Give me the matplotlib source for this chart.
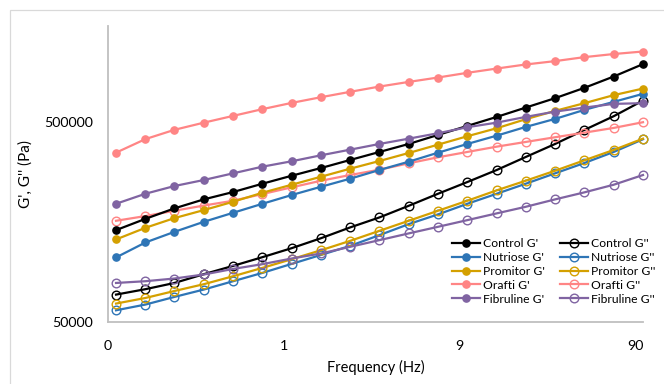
import numpy as np
import matplotlib
matplotlib.use("Agg")
import matplotlib.pyplot as plt
from matplotlib.ticker import FixedLocator, FixedFormatter, NullLocator
from matplotlib.patches import Rectangle

plt.rcParams['font.family'] = ['Lato', 'DejaVu Sans']

# Frequency (Hz): 19 points, 6 per decade from 0.1 to 100
frequency = [0.1, 0.147, 0.215, 0.316, 0.464, 0.681, 1.0, 1.47, 2.15, 3.16,
             4.64, 6.81, 10.0, 14.7, 21.5, 31.6, 46.4, 68.1, 100.0]

control_g1 = [143.7e3, 163.6e3, 184.5e3, 204.6e3, 222.6e3, 244.9e3, 268.5e3, 293.4e3, 321.7e3, 352.8e3,
              386.8e3, 429.1e3, 475.9e3, 527.8e3, 587.5e3, 654.6e3, 737.1e3, 839.5e3, 968.2e3]
control_g2 = [68.5e3, 72.9e3, 78.3e3, 86.6e3, 95.3e3, 105.3e3, 116.8e3, 131.0e3, 148.2e3, 166.3e3,
              190.1e3, 218.3e3, 249.7e3, 286.8e3, 333.0e3, 386.8e3, 454.5e3, 532.0e3, 637.0e3]
nutriose_g1 = [105.0e3, 124.7e3, 140.9e3, 158.1e3, 175.4e3, 194.5e3, 215.1e3, 236.6e3, 259.4e3, 286.8e3,
               315.5e3, 349.9e3, 386.8e3, 425.6e3, 470.4e3, 515.9e3, 572.2e3, 627.4e3, 687.9e3]
nutriose_g2 = [57.2e3, 61.1e3, 66.7e3, 72.6e3, 79.9e3, 87.9e3, 97.5e3, 108.1e3, 119.9e3, 135.7e3,
               154.0e3, 172.2e3, 194.5e3, 218.3e3, 244.9e3, 276.0e3, 310.8e3, 352.8e3, 408.3e3]
promitor_g1 = [129.1e3, 147.6e3, 165.0e3, 180.9e3, 199.1e3, 220.8e3, 242.1e3, 265.5e3, 291.0e3, 318.0e3,
               348.7e3, 383.7e3, 422.7e3, 463.4e3, 514.0e3, 565.6e3, 618.0e3, 677.6e3, 731.0e3]
promitor_g2 = [61.8e3, 65.9e3, 71.4e3, 77.2e3, 84.6e3, 93.1e3, 102.9e3, 114.1e3, 127.0e3, 142.6e3,
               160.0e3, 179.5e3, 201.4e3, 227.0e3, 253.5e3, 284.4e3, 320.6e3, 361.0e3, 411.1e3]
orafti_g1 = [350e3, 409e3, 455e3, 494e3, 534e3, 577e3, 620e3, 662e3, 704e3, 748e3,
             789e3, 830e3, 876e3, 920e3, 964e3, 1002e3, 1049e3, 1087e3, 1119e3]
orafti_g2 = [160.0e3, 168.9e3, 179.5e3, 190.6e3, 201.4e3, 217.5e3, 235.0e3, 253.5e3, 270.7e3, 287.7e3,
             309.7e3, 331.9e3, 352.8e3, 375.0e3, 395.8e3, 417.8e3, 440.5e3, 465.0e3, 496.6e3]
fibruline_g1 = [194.5e3, 218.3e3, 238.5e3, 255.6e3, 276.0e3, 297.9e3, 317.0e3, 339.6e3, 362.2e3, 386.8e3,
                411.1e3, 437.5e3, 468.8e3, 494.3e3, 527.8e3, 561.0e3, 587.5e3, 613.0e3, 618.0e3]
fibruline_g2 = [78.3e3, 79.9e3, 82.4e3, 86.3e3, 92.0e3, 97.2e3, 103.7e3, 109.9e3, 118.6e3, 128.1e3,
                138.4e3, 149.3e3, 161.2e3, 174.2e3, 187.9e3, 204.6e3, 221.8e3, 242.1e3, 270.7e3]

samples = ["Control", "Nutriose", "Promitor", "Orafti", "Fibruline"]
colors = ["#000000", "#2E75B6", "#D4A000", "#FF8585", "#8064A2"]
g1_series = [control_g1, nutriose_g1, promitor_g1, orafti_g1, fibruline_g1]
g2_series = [control_g2, nutriose_g2, promitor_g2, orafti_g2, fibruline_g2]

x_ticks = [0.09, 0.9, 9, 90]
x_ticklabels = ["0", "1", "9", "90"]
y_ticks = [50000, 500000]
y_ticklabels = ["50000", "500000"]

W, H = 664, 384
fig = plt.figure(figsize=(W / 100, H / 100), dpi=100)
ax = fig.add_axes([108 / W, 1 - 322 / H, (643 - 108) / W, (322 - 26) / H])

handles1, handles2 = [], []
for name, c, g2 in zip(samples, colors, g2_series):
    l2, = ax.plot(frequency, g2, color=c, lw=1.6, marker='o', ms=6.2,
                  mfc='none', mec=c, mew=1.0, clip_on=False, label=f"{name} G''", zorder=3)
    handles2.append(l2)
for name, c, g1 in zip(samples, colors, g1_series):
    l1, = ax.plot(frequency, g1, color=c, lw=1.6, marker='o', ms=5.2,
                  mfc=c, mec=c, clip_on=False, label=f"{name} G'", zorder=4)
    handles1.append(l1)

ax.set_xscale('log')
ax.set_yscale('log')
ax.set_xlim(0.09, 100)
ax.set_ylim(50000, 1.5e6)

ax.xaxis.set_major_locator(FixedLocator(x_ticks))
ax.xaxis.set_major_formatter(FixedFormatter(x_ticklabels))
ax.xaxis.set_minor_locator(NullLocator())
ax.yaxis.set_major_locator(FixedLocator(y_ticks))
ax.yaxis.set_major_formatter(FixedFormatter(y_ticklabels))
ax.yaxis.set_minor_locator(NullLocator())
ax.tick_params(axis='both', length=0, labelsize=10.3, colors='#000000')
ax.tick_params(axis='x', pad=13)
ax.tick_params(axis='y', pad=11)

for s in ['top', 'right']:
    ax.spines[s].set_visible(False)
for s in ['left', 'bottom']:
    ax.spines[s].set_color('#BFBFBF')
    ax.spines[s].set_linewidth(1.3)

ax.set_xlabel("Frequency (Hz)", fontsize=10.5, labelpad=6)
ax.set_ylabel("G', G'' (Pa)", fontsize=11)
ax.yaxis.set_label_coords((33 - 108) / 535, 0.5)

leg = fig.legend(handles=handles1 + handles2, ncol=2, loc='upper left',
                 bbox_to_anchor=(452 / W, 1 - 238 / H), frameon=False, fontsize=8.7,
                 handlelength=2.3, handletextpad=0.25, columnspacing=1.25,
                 labelspacing=0.24, borderpad=0.0, borderaxespad=0.0)

# chart-area border (left and top edges visible in crop)
fig.patches.append(Rectangle((10 / W, -0.1), 1.2, 1.1 - 10 / H, transform=fig.transFigure,
                             fill=False, edgecolor='#D9D9D9', lw=0.9))

fig.savefig("out.png", dpi=100)
